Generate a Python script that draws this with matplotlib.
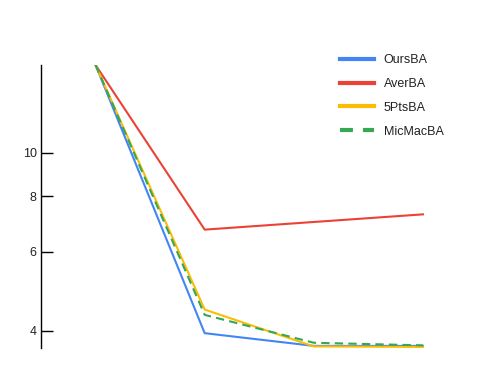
import matplotlib
matplotlib.use("Agg")
import matplotlib.pyplot as plt
from matplotlib.lines import Line2D
from matplotlib.ticker import FixedLocator, FixedFormatter, NullLocator

plt.rcParams["font.family"] = ["Liberation Sans", "DejaVu Sans"]

steps = [0, 1, 2, 3]
ours_ba = [15.7, 3.95, 3.70, 3.70]
aver_ba = [15.7, 6.73, 7.0, 7.28]
pts5_ba = [15.7, 4.46, 3.69, 3.68]
micmac_ba = [15.7, 4.34, 3.76, 3.71]
y_ticks = [4, 6, 8, 10]

names = ["OursBA", "AverBA", "5PtsBA", "MicMacBA"]
colors = ["#4285F4", "#EA4335", "#FBBC04", "#34A853"]

fig = plt.figure(figsize=(4.91, 3.75), dpi=100)
ax = fig.add_axes([41 / 491, 1 - 348 / 375, (477.5 - 41) / 491, (348 - 65) / 375])

ax.plot(steps, ours_ba, color=colors[0], lw=1.5)
ax.plot(steps, aver_ba, color=colors[1], lw=1.5)
ax.plot(steps, pts5_ba, color=colors[2], lw=1.5)
ax.plot(steps, micmac_ba, color=colors[3], lw=1.5, dashes=[4, 2.5])

ax.set_yscale("log")
all_vals = ours_ba + aver_ba + pts5_ba + micmac_ba
ax.set_ylim(3.66, max(all_vals))
ax.set_xlim(-0.5, 3.5)

ax.yaxis.set_major_locator(FixedLocator(y_ticks))
ax.yaxis.set_major_formatter(FixedFormatter([str(t) for t in y_ticks]))
ax.yaxis.set_minor_locator(NullLocator())
ax.tick_params(axis="y", direction="in", length=8.6, width=1, pad=3,
               labelsize=9, labelcolor="#222222")
ax.set_xticks([])

for side in ["top", "right", "bottom"]:
    ax.spines[side].set_visible(False)
ax.spines["left"].set_linewidth(1)

# legend handles drawn thicker, green one with long dashes
handles = [Line2D([], [], color=c, lw=3) for c in colors[:3]]
handles.append(Line2D([], [], color=colors[3], lw=3, linestyle=(0, (3.1, 2.4))))

leg = fig.legend(handles, names, loc="upper left",
                 bbox_to_anchor=(335 / 491, 1 - 49 / 375),
                 frameon=False, fontsize=9, handlelength=2.7, handletextpad=0.8,
                 labelspacing=0.95, borderaxespad=0)
for text in leg.get_texts():
    text.set_color("#222222")

fig.savefig("out.png", dpi=100)
